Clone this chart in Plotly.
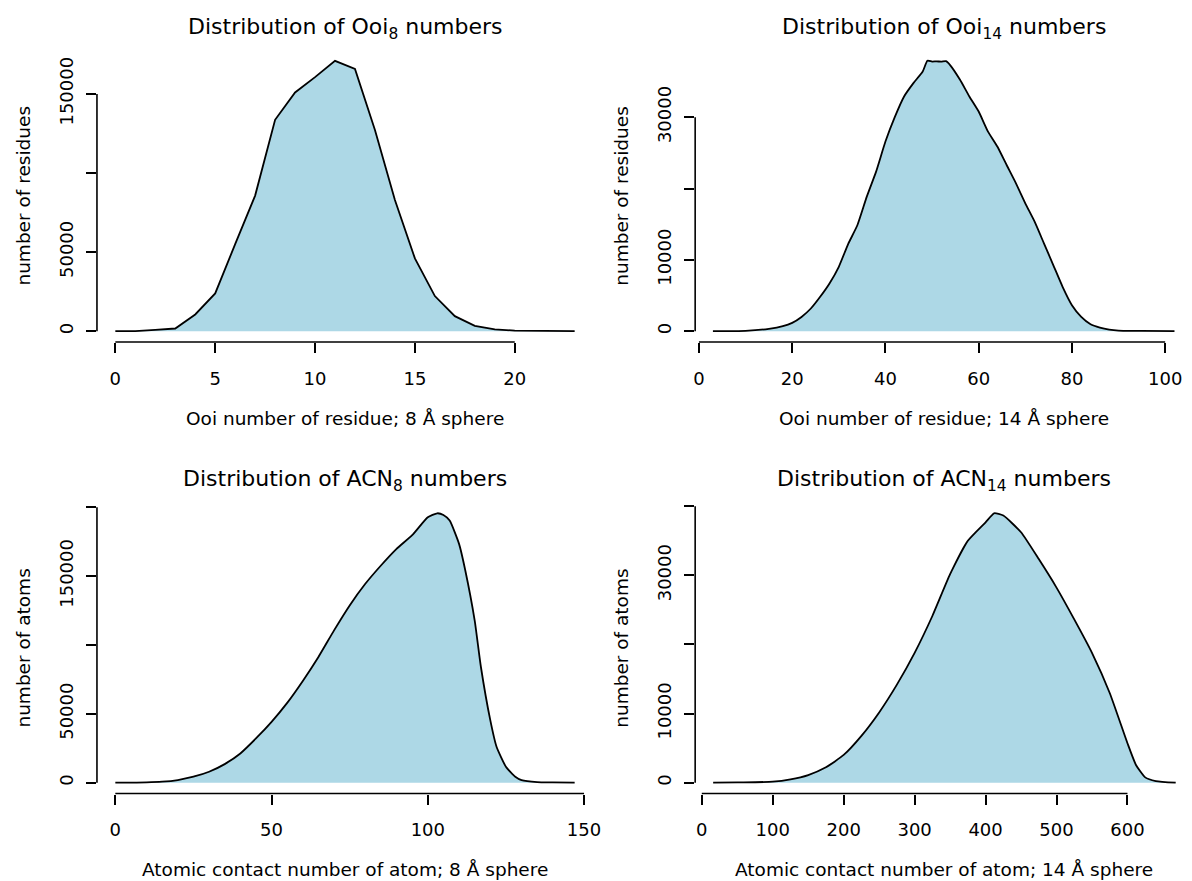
import plotly.graph_objects as go

# ---------------- data ----------------
ooi8_x = list(range(24))
ooi8_y = [0, 100, 850, 1700, 10550, 23850, 55000, 85700, 133600, 150900, 160600,
          170900, 165800, 127200, 82900, 46000, 22200, 9500, 3400, 1100, 400, 200, 100, 50]

ooi14_x = [3, 10, 15, 18, 20, 22, 24, 26, 28, 30, 32, 34, 36, 38, 40, 42, 44, 46, 48, 49,
           50, 51, 52, 53, 54, 56, 58, 60, 62, 64, 66, 68, 70, 72, 74, 76, 78, 80, 82, 84,
           86, 88, 90, 95, 102]
ooi14_y = [0, 50, 330, 700, 1170, 2000, 3180, 4820, 6690, 9030, 12210, 14880, 18860, 22370,
           26580, 30000, 32900, 34770, 36400, 37900, 37800, 37820, 37780, 37850, 37200, 35240,
           32900, 30790, 27980, 25880, 23300, 20730, 17920, 15350, 12310, 9270, 6220, 3650,
           2010, 980, 510, 230, 90, 30, 0]

acn8_x = [0, 10, 15, 20, 25, 30, 35, 40, 45, 50, 55, 60, 65, 70, 75, 80, 85, 90, 95, 100,
          103, 105, 107, 110, 112, 115, 117, 120, 122, 125, 128, 130, 135, 140, 147]
acn8_y = [0, 240, 725, 1930, 4350, 7970, 13520, 21250, 32120, 44200, 57960, 73900, 91290,
          110600, 128700, 144400, 157700, 169800, 179700, 192700, 195600, 194400, 190300,
          173400, 154100, 117900, 84000, 45400, 26100, 11600, 4350, 1930, 480, 240, 0]

acn14_x = [16, 50, 100, 125, 150, 175, 200, 225, 250, 275, 300, 325, 350, 375, 400, 412,
           425, 450, 475, 500, 525, 550, 575, 600, 612, 625, 640, 668]
acn14_y = [0, 50, 145, 480, 1110, 2230, 4020, 6780, 10170, 14190, 18790, 24120, 30170,
           35010, 37680, 38980, 38650, 36230, 32350, 28230, 23630, 18790, 12980, 5710,
           2570, 775, 240, 0]

ooi8_xticks = [0, 5, 10, 15, 20]
ooi14_xticks = [0, 20, 40, 60, 80, 100]
acn8_xticks = [0, 50, 100, 150]
acn14_xticks = [0, 100, 200, 300, 400, 500, 600]

# labelled and unlabelled y ticks (R drops overlapping labels)
ooi8_yticks = [0, 50000, 150000]
ooi8_yticks_nolabel = [100000]
ooi14_yticks = [0, 10000, 30000]
ooi14_yticks_nolabel = [20000]
acn8_yticks = [0, 50000, 150000]
acn8_yticks_nolabel = [100000, 200000]
acn14_yticks = [0, 10000, 30000]
acn14_yticks_nolabel = [20000, 40000]

titles = ["Distribution of Ooi<sub>8</sub> numbers", "Distribution of Ooi<sub>14</sub> numbers",
          "Distribution of ACN<sub>8</sub> numbers", "Distribution of ACN<sub>14</sub> numbers"]
xtitles = ["Ooi number of residue; 8 Å sphere", "Ooi number of residue; 14 Å sphere",
           "Atomic contact number of atom; 8 Å sphere", "Atomic contact number of atom; 14 Å sphere"]
ytitles = ["number of residues", "number of residues", "number of atoms", "number of atoms"]

# ---------------- layout ----------------
OFF = 8                     # page body margin
W, H = 1192 - OFF, 881 - OFF
FONT = "DejaVu Sans"
FILL = "#ADD8E6"


def fx(px):
    return (px - OFF) / W


def fy(py):
    return 1 - (py - OFF) / H


panels = [
    dict(x=ooi8_x, y=ooi8_y, xt=ooi8_xticks, yt=ooi8_yticks, yn=ooi8_yticks_nolabel,
         xpx=(95.7, 596.0), ypx=(50.0, 342.0), xr=[-0.92, 23.92], shape="linear", cx=346.0),
    dict(x=ooi14_x, y=ooi14_y, xt=ooi14_xticks, yt=ooi14_yticks, yn=ooi14_yticks_nolabel,
         xpx=(699.0, 1192.0), ypx=(50.0, 342.0), xr=[-0.81, 104.04], shape="spline", cx=950.0),
    dict(x=acn8_x, y=acn8_y, xt=acn8_xticks, yt=acn8_yticks, yn=acn8_yticks_nolabel,
         xpx=(95.7, 596.0), ypx=(502.5, 793.5), xr=[-5.88, 152.88], shape="spline", cx=346.0),
    dict(x=acn14_x, y=acn14_y, xt=acn14_xticks, yt=acn14_yticks, yn=acn14_yticks_nolabel,
         xpx=(699.0, 1192.0), ypx=(502.5, 793.5), xr=[-9.36, 679.7], shape="spline", cx=950.0),
]

fig = go.Figure()
shapes = []
annotations = []
layout = dict(width=W, height=H, margin=dict(l=0, r=0, t=0, b=0),
              paper_bgcolor="white", plot_bgcolor="white", showlegend=False,
              font=dict(family=FONT, size=18, color="black"))

for i, p in enumerate(panels):
    k = "" if i == 0 else str(i + 1)
    xa, ya = "x" + k, "y" + k
    fig.add_trace(go.Scatter(
        x=p["x"], y=p["y"], mode="lines", xaxis=xa, yaxis=ya,
        line=dict(color="black", width=1.8, shape=p["shape"], smoothing=0.5),
        fill="tozeroy", fillcolor=FILL, hoverinfo="skip"))
    ymax = max(p["y"])
    yr = [-0.04 * ymax, 1.04 * ymax]
    x0, x1 = p["xpx"]
    ytop, ybot = p["ypx"]
    layout["xaxis" + k] = dict(
        domain=[fx(x0), min(1.0, fx(x1))], range=p["xr"], anchor=ya, showgrid=False,
        zeroline=False, showline=False, ticks="outside", ticklen=10, tickwidth=1.6,
        tickcolor="black", tickmode="array", tickvals=p["xt"],
        ticktext=[str(v) for v in p["xt"]],
        tickfont=dict(family=FONT, size=18), ticklabelstandoff=10, fixedrange=True)
    layout["yaxis" + k] = dict(
        domain=[fy(ybot), fy(ytop)], range=yr, anchor=xa, showgrid=False,
        zeroline=False, showline=False, ticks="outside", ticklen=10, tickwidth=1.6,
        tickcolor="black", tickmode="array", tickvals=p["yt"],
        ticktext=[str(v) for v in p["yt"]],
        minor=dict(tickmode="array", tickvals=p["yn"], ticks="outside", ticklen=10,
                   tickwidth=1.6, tickcolor="black", showgrid=False),
        tickangle=-90, tickfont=dict(family=FONT, size=18), ticklabelstandoff=6,
        fixedrange=True)
    all_y = sorted(p["yt"] + p["yn"])
    # R-style axis lines spanning first..last tick
    shapes.append(dict(type="line", xref=xa, yref=ya + " domain", x0=p["xt"][0], x1=p["xt"][-1],
                       y0=0, y1=0, line=dict(color="black", width=1.6)))
    shapes.append(dict(type="line", xref=xa + " domain", yref=ya, x0=0, x1=0,
                       y0=all_y[0], y1=all_y[-1], line=dict(color="black", width=1.6)))
    # titles
    annotations.append(dict(text=titles[i], xref="paper", yref="paper", x=fx(p["cx"]),
                            y=fy(ytop - 22), xanchor="center", yanchor="middle",
                            showarrow=False, font=dict(family=FONT, size=22)))
    annotations.append(dict(text=xtitles[i], xref="paper", yref="paper", x=fx(p["cx"]),
                            y=fy(ybot + 76), xanchor="center", yanchor="middle",
                            showarrow=False, font=dict(family=FONT, size=18.5)))
    annotations.append(dict(text=ytitles[i], xref="paper", yref="paper",
                            x=fx(x0 - 75), y=fy((ytop + ybot) / 2),
                            xanchor="center", yanchor="middle", textangle=-90,
                            showarrow=False, font=dict(family=FONT, size=18.5)))

layout["shapes"] = shapes
layout["annotations"] = annotations
fig.update_layout(**layout)
fig.write_html("out.html")
